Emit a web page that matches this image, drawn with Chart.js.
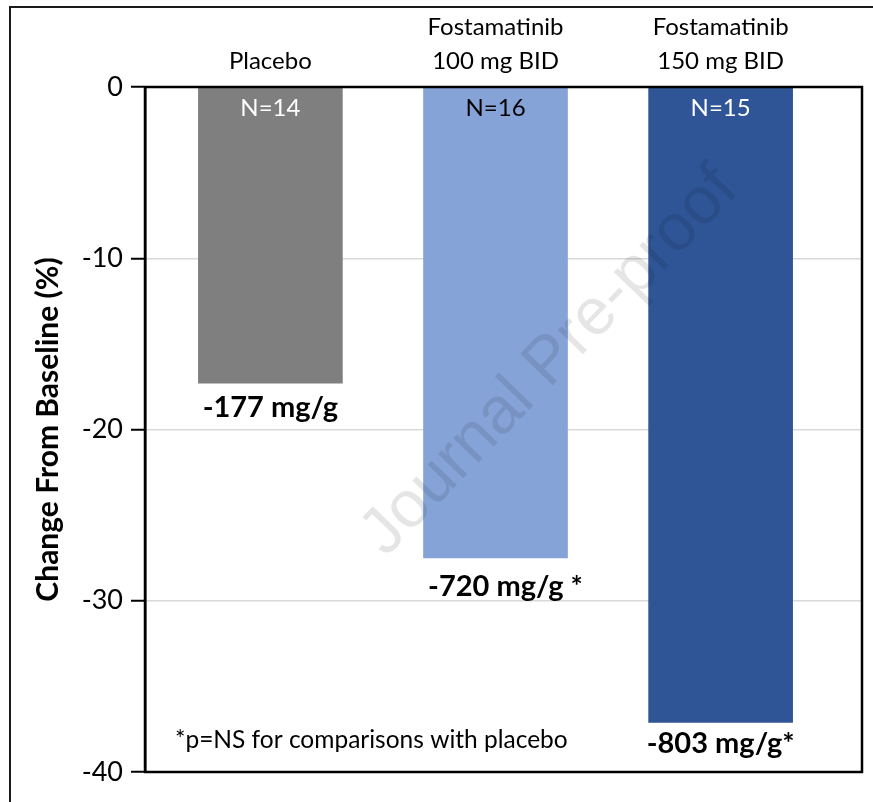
<!DOCTYPE html>
<html>
<head>
<meta charset="utf-8">
<title>Change From Baseline</title>
<script src="https://cdn.jsdelivr.net/npm/chart.js@4/dist/chart.umd.min.js"></script>
<style>
  html, body { margin: 0; padding: 0; background: #ffffff; }
  #wrap { width: 873px; height: 802px; position: relative; }
</style>
</head>
<body>
<div id="wrap"><canvas id="chart" width="873" height="802"></canvas></div>
<script>
// Treatment groups (top labels), percent change per group, and annotations
const categories = [['Placebo'], ['Fostamatinib', '100 mg BID'], ['Fostamatinib', '150 mg BID']];
const groupIndex = [1, 2, 3];
const changePct = [-17.3, -27.5, -37.1];
const sampleSizes = ['N=14', 'N=16', 'N=15'];
const mgLabels = ['-177 mg/g', '-720 mg/g *', '-803 mg/g*'];
const yTicks = [0, -10, -20, -30, -40];
const footnote = '*p=NS for comparisons with placebo';
const watermark = 'Journal Pre-proof';

const barColors = ['#7f7f7f', '#86a3d8', '#2f5597'];
const nLabelColors = ['#ffffff', '#000000', '#ffffff'];

const FONT = 'Lato, "Open Sans", sans-serif';

// Frame, in-bar counts, value captions, footnote and watermark
const annotations = {
  id: 'annotations',
  afterDatasetsDraw(chart, args, opts) {
    const ctx = chart.ctx;
    const area = chart.chartArea;
    const meta = chart.getDatasetMeta(0);
    ctx.save();

    // in-bar sample sizes
    ctx.font = '24px ' + FONT;
    ctx.textAlign = 'center';
    ctx.textBaseline = 'alphabetic';
    meta.data.forEach((bar, i) => {
      ctx.fillStyle = nLabelColors[i];
      ctx.fillText(sampleSizes[i], bar.x, bar.base + 28);
    });

    // value captions under each bar
    ctx.font = 'bold 29px ' + FONT;
    ctx.fillStyle = '#000000';
    meta.data.forEach((bar, i) => {
      ctx.fillText(mgLabels[i], bar.x + opts.captionShift[i], bar.y + opts.captionGap[i]);
    });

    // footnote
    ctx.font = '24.5px ' + FONT;
    ctx.textAlign = 'left';
    ctx.fillText(footnote, area.left + 30, area.bottom - 24);

    // plot frame
    ctx.strokeStyle = '#000000';
    ctx.lineWidth = 2.5;
    ctx.strokeRect(area.left, area.top, area.right - area.left, area.bottom - area.top);

    // outer figure frame
    ctx.strokeStyle = '#1a1a1a';
    ctx.lineWidth = 2;
    ctx.beginPath();
    ctx.moveTo(10, chart.height + 5);
    ctx.lineTo(10, 7);
    ctx.lineTo(chart.width + 5, 7);
    ctx.stroke();

    // watermark
    ctx.translate(550, 362);
    ctx.rotate(-46 * Math.PI / 180);
    ctx.font = '66px "Liberation Sans", Arial, sans-serif';
    ctx.textAlign = 'center';
    ctx.textBaseline = 'middle';
    ctx.fillStyle = 'rgba(0,0,0,0.1)';
    ctx.fillText(watermark, 0, 0);
    ctx.restore();
  }
};

new Chart(document.getElementById('chart'), {
  type: 'bar',
  data: {
    datasets: [{
      data: groupIndex.map((g, i) => ({ x: g, y: changePct[i] })),
      backgroundColor: barColors,
      borderWidth: 0,
      barThickness: 144
    }]
  },
  options: {
    responsive: false,
    animation: false,
    events: [],
    layout: { padding: { left: 0, top: 0, right: 11, bottom: 30 } },
    plugins: {
      legend: { display: false },
      tooltip: { enabled: false },
      annotations: { captionGap: [34, 38, 31], captionShift: [0, 10, 0] }
    },
    scales: {
      x: {
        type: 'linear',
        position: 'top',
        offset: false,
        min: 0.443,
        max: 3.628,
        afterBuildTicks: (scale) => { scale.ticks = groupIndex.map(v => ({ value: v })); },
        afterFit: (scale) => { scale.height = 87; },
        grid: { display: false },
        border: { display: false },
        ticks: {
          autoSkip: false,
          maxRotation: 0,
          padding: 1,
          color: '#000000',
          font: { family: FONT, size: 24, lineHeight: 1.4 },
          callback: (v) => categories[groupIndex.indexOf(v)] || ''
        }
      },
      y: {
        min: -40,
        max: 0,
        afterBuildTicks: (scale) => { scale.ticks = yTicks.map(v => ({ value: v })); },
        afterFit: (scale) => { scale.width = 145; },
        grid: {
          color: (c) => (c.tick && (c.tick.value === 0 || c.tick.value === -40)) ? 'rgba(0,0,0,0)' : '#d9d9d9',
          lineWidth: 1.5,
          tickColor: '#000000',
          tickWidth: 2,
          tickLength: 14
        },
        border: { color: '#000000', width: 2.5 },
        ticks: {
          padding: 8,
          color: '#000000',
          font: { family: FONT, size: 27 },
          callback: (v) => String(v)
        },
        title: {
          display: true,
          text: 'Change From Baseline (%)',
          color: '#000000',
          font: { family: FONT, size: 30, weight: 'bold' },
          padding: { top: 30, bottom: 0 }
        }
      }
    }
  },
  plugins: [annotations]
});
</script>
</body>
</html>
